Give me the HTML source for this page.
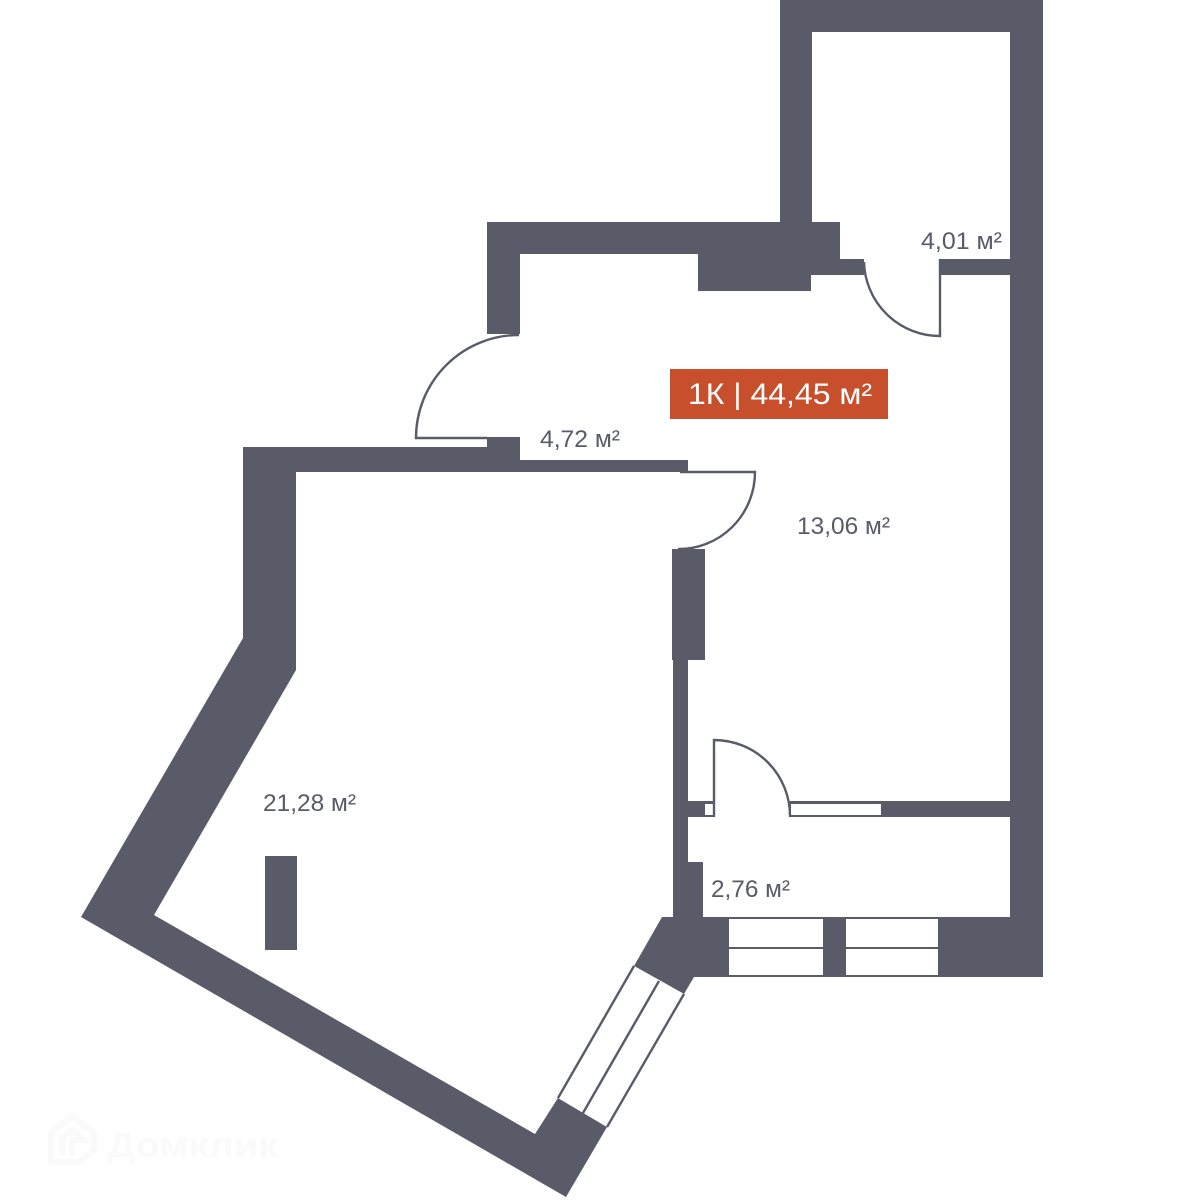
<!DOCTYPE html>
<html>
<head>
<meta charset="utf-8">
<style>
html,body{margin:0;padding:0;background:#fff;width:1200px;height:1200px;overflow:hidden}
svg{display:block}
text{font-family:"Liberation Sans",sans-serif}
.l{font-size:24px;fill:#595b68}
</style>
</head>
<body>
<svg width="1200" height="1200" viewBox="0 0 1200 1200" xmlns="http://www.w3.org/2000/svg">
<rect width="1200" height="1200" fill="#fff"/>
<!-- watermark -->
<g fill="none" stroke="#fafafa" stroke-width="6">
<path d="M51 1133 L72 1116 L94 1133 V1150 L79 1162 H54 Q51 1162 51 1159 Z"/>
<path d="M62 1156 V1138 L72 1130 L84 1140 H72 V1156"/>
</g>
<text x="107" y="1157" font-size="35" font-weight="700" fill="#fafafa" textLength="171" lengthAdjust="spacingAndGlyphs">Домклик</text>
<!-- walls -->
<g fill="#595b68">
<path d="M243 447 H487 V437 H520 V460 H688 V472 H296 V670 L154 915 L535 1134 L558 1098 L607 1127 L566 1197 L81 917 L243 638 Z"/>
<path d="M780 0 H1043 V977 H694 L684 994 L634 966 L662 917 H673 V660 H672 V549 H705 V660 H688 V862 H703 V917 H1010 V817 H688 V801 H1010 V275 H940 V259 H1010 V32 H812 V222 H840 V259 H864 V275 H811 V291 H698 V254 H520 V334 H487 V222 H780 Z"/>
<rect x="265" y="856" width="32" height="94"/>
</g>
<!-- windows -->
<g fill="#fff">
<rect x="729" y="919" width="94" height="28"/>
<rect x="729" y="949" width="94" height="26"/>
<rect x="846" y="919" width="92" height="28"/>
<rect x="846" y="949" width="92" height="26"/>
<rect x="705" y="804" width="9" height="11"/>
<rect x="714" y="799" width="76" height="20"/>
<rect x="791" y="804" width="90" height="11"/>
<path d="M634 966 L684 994 L607 1127 L558 1098 Z"/>
</g>
<g fill="none" stroke="#595b68" stroke-width="2.4">
<path d="M634 966 L558 1098 M659 981 L583 1113 M684 994 L607 1127"/>
<!-- doors -->
<path d="M519 335 A103 103 0 0 0 416 438 H487"/>
<path d="M864 262 A76 76 0 0 0 940 336 V259"/>
<path d="M680 472 H755 A76 77 0 0 1 678 549"/>
<path d="M714 817 V740 A76 76 0 0 1 790 817"/>
</g>
<path d="M789 802.5 H881 M789 816 H881" stroke="#595b68" stroke-width="2" fill="none"/>
<path d="M704 816 H714" stroke="#595b68" stroke-width="2" fill="none"/>
<!-- badge -->
<rect x="670" y="369" width="218" height="50" fill="#c84f2b"/>
<text x="688" y="404" font-size="30" fill="#fff" textLength="184" lengthAdjust="spacingAndGlyphs">1К | 44,45 м²</text>
<!-- labels -->
<text class="l" x="540" y="447" textLength="80" lengthAdjust="spacingAndGlyphs">4,72 м²</text>
<text class="l" x="921" y="249" textLength="81" lengthAdjust="spacingAndGlyphs">4,01 м²</text>
<text class="l" x="797" y="534" textLength="93" lengthAdjust="spacingAndGlyphs">13,06 м²</text>
<text class="l" x="263" y="811" textLength="93" lengthAdjust="spacingAndGlyphs">21,28 м²</text>
<text class="l" x="711" y="897" textLength="79" lengthAdjust="spacingAndGlyphs">2,76 м²</text>
</svg>
</body>
</html>
